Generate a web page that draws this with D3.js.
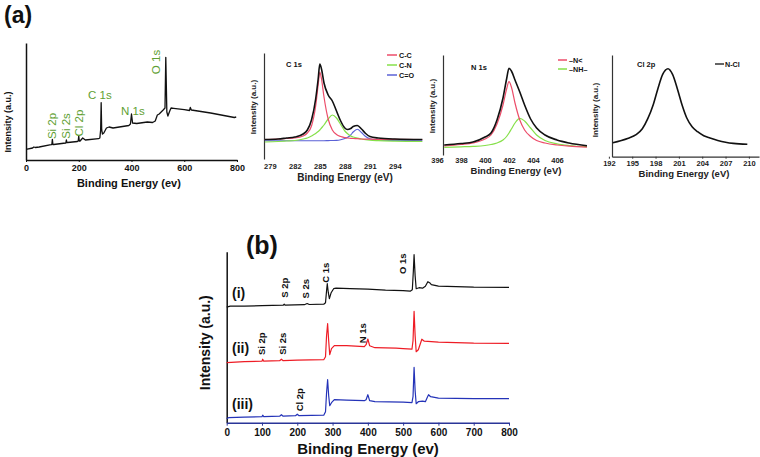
<!DOCTYPE html>
<html><head><meta charset="utf-8">
<script src="https://cdn.jsdelivr.net/npm/d3@7"></script>
<style>body{margin:0;background:#fff}svg{display:block}text{font-family:"Liberation Sans",Arial,sans-serif}</style>
</head><body><svg id="c" width="760" height="457"></svg>
<script>
// ---------- DATA ----------
// (a) survey spectrum
const surveyE = [0,25,30,35,50,95,98,100,102,105,150,151,153,155,158,195,198,200,202,205,215,225,275,280,283,285,287,290,295,305,315,330,390,396,400,404,420,460,480,490,498,505,520,527,530,534,538,545,550,560,600,620,623,627,700,760,790,797];
const surveyI = [10.7,12,13,12.5,13,15.3,15.5,20.7,15.5,15.5,17,17,20,17.5,17.5,18.5,19,24,19,19,22,20,21.3,22,30,57.3,30,26,27,32,33,32,34.5,36,46,37,36.5,38,37.5,39,45,46,50,52,102.7,48,44,49,52,51.7,50.3,49.5,52.5,50,47,44,42.5,43];
const surveyTicks = [0,200,400,600,800];
const surveyPeaks = ["Si 2p","Si 2s","Cl 2p","C 1s","N 1s","O 1s"];

// C 1s high resolution
const c1sE = [278.4,280,281,282,283,283.5,284,284.5,284.8,285,285.2,285.5,286,286.5,287,287.5,288,288.3,288.7,289,289.5,290,290.5,291,292,294,297.3];
const c1sTotal = [19.5,20,21,22,25,29,39,60,80,95,90,76,64,58,48,38,31,29.5,30.5,32.5,33.5,30,25.5,22.5,21,20,19.5];
const c1sCC = [19.5,20,20.5,21,23,26,33,53,74,87,80,62,40,29,24.5,22.5,21.5,21,20.7,20.5,20.3,20,19.9,19.8,19.7,19.6,19.5];
const c1sCN = [17,17.5,18,18.5,20,21,23,25.5,27.5,29,31,34,40,44,41,34.5,28,25.5,23,22,20.8,20,19.3,18.8,18.3,17.8,17.5];
const c1sCO = [18.3,18.3,18.3,18.3,18.3,18.3,18.3,18.3,18.3,18.3,18.3,18.3,18.4,18.5,18.6,19.2,20.5,21.5,24,27,29.7,26.5,22.5,20.3,19,18.5,18.3];
const c1sTicks = [279,282,285,288,291,294];
const c1sLegend = ["C-C","C-N","C=O"];

// N 1s high resolution
const n1sE = [396.6,398,399,400,400.5,401,401.5,401.8,402,402.2,402.5,402.9,403.3,403.8,404.3,405,406,407,408.5];
const n1sTotal = [10,11.5,13,18,22,35,57,76,86.7,84,75,63,50,36,27,20,15,12,9.3];
const n1sN3 = [9,10.5,12,16,20,31,50,66,73.3,68,52,35,25,18.5,14.5,12,10,8.8,7.8];
const n1sNH = [7.7,8.2,8.6,9.5,10.5,12,15,18.5,22,26,32,36.7,34,27,20,14.5,11.2,9.5,8.3];
const n1sTicks = [396,398,400,402,404,406];
const n1sLegend = ["\u2013N<","\u2013NH\u2013"];

// Cl 2p high resolution
const cl2pE = [192.5,193.5,194.5,195.5,196.3,197,197.7,198.3,198.9,199.6,200.2,200.8,201.4,202,202.7,203.4,204.2,205,206,207,208,209.8];
const cl2pI = [14,16,18.5,22,28,38,52,68,82,88,82,68,52,39,30,25,21,18.7,16.3,14.5,13.3,12.4];
const cl2pTicks = [192,195,198,201,204,207,210];

// (b) survey spectra of three samples
const bE1 = [0,10,50,100,160,163,166,220,228,234,275,280,283,285,288,291,296,303,310,350,400,450,500,520,526,529,531,534,537,545,555,563,570,575,580,600,650,700,800];
const bI1 = [115.5,116.5,116.5,117,117.5,118.5,117.5,118,119.2,118.2,118.5,120,132,139,130,124,130,134,134.5,134,133.5,132.5,132,131.5,133,152,168,147,134,135,134.5,136.5,141,140,138,136.5,136,135.5,135.3];
const bE2 = [0,50,100,102,105,150,155,160,200,275,280,283,286,289,292,297,305,340,390,395,400,405,420,480,500,525,528,531,534,537,543,553,560,600,700,800];
const bI2 = [60,61,61.5,63.5,61.5,62,63.5,62,62.5,63,66,87,99,82,68,74,77,77,76,78,83.7,77,75,74.5,74,73.5,82,111.3,87,71,73,83.5,81.5,80.5,79.5,79.3];
const bE3 = [0,5,50,100,102,105,150,155,160,195,200,205,275,280,283,286,289,292,297,305,340,390,395,400,405,420,500,525,528,531,534,537,543,555,563,568,572,578,600,700,800];
const bI3 = [4,5,5.5,6,7.5,6,6.5,8,6.5,7,8.5,7,7.5,11,30,43,27,17,20,23,22.5,22,23,28,22,21,20.5,20,26,55.3,32,19,21,21.5,21,25,28,26,24.5,24,24];
const bTicks = [0,100,200,300,400,500,600,700,800];
const bSeriesNames = ["(i)","(ii)","(iii)"];
const bPeaks1 = ["S 2p","S 2s","C 1s","O 1s"];
const bPeaks2 = ["Si 2p","Si 2s","N 1s"];
const bPeaks3 = ["Cl 2p"];

// ---------- DRAW ----------
const svg = d3.select("#c");
const FONT = '"Liberation Sans",Arial,sans-serif';
const zip = (E,I) => E.map((e,i)=>[e,I[i]]);

function lineOf(x,y,curve){return d3.line().x(d=>x(d[0])).y(d=>y(d[1])).curve(curve||d3.curveLinear);}
function path(g,data,x,y,color,w,curve){
  g.append("path").datum(data).attr("fill","none").attr("stroke",color)
   .attr("stroke-width",w).attr("stroke-linejoin","round").attr("d",lineOf(x,y,curve));
}
function txt(g,s,x,y,o){
  o=o||{};
  const t=g.append("text").attr("x",x).attr("y",y).text(s)
    .attr("font-size",o.size||8).attr("font-weight",o.weight||"bold")
    .attr("fill",o.fill||"#111").attr("text-anchor",o.anchor||"middle");
  if(o.rot) t.attr("transform",`rotate(${o.rot},${x},${y})`);
  return t;
}
function styleAxis(g,size,color,domainColor,domW){
  g.selectAll("text").attr("font-size",size).attr("font-weight","bold").attr("fill",color).attr("font-family",FONT);
  g.selectAll("line").attr("stroke",domainColor).attr("stroke-width",1);
  g.select(".domain").attr("stroke",domainColor).attr("stroke-width",domW);
}

// ===== (a) survey =====
txt(svg,"(a)",4,23,{size:23,anchor:"start"});
const xA = d3.scaleLinear([0,800],[26,237]);
const yA = d3.scaleLinear([0,117],[160,43]);
const gA = svg.append("g");
const axA = gA.append("g").attr("transform","translate(0,160)")
  .call(d3.axisBottom(xA).tickValues(surveyTicks).tickSize(2).tickPadding(3).tickSizeOuter(0));
styleAxis(axA,9,"#111","#111",1.5);
const ayA = gA.append("g").attr("transform","translate(26,0)")
  .call(d3.axisLeft(yA).tickValues([]).tickSizeOuter(0));
ayA.select(".domain").attr("stroke","#111").attr("stroke-width",1.5);
path(gA,zip(surveyE,surveyI),xA,yA,"#111",1.3);
txt(gA,"Binding Energy (ev)",xA(390),186.5,{size:11});
txt(gA,"Intensity (a.u.)",10.5,yA(38),{size:9,rot:-90});
const green="#5f9f33";
const pk = {size:11.5,weight:"normal",fill:green};
txt(gA,surveyPeaks[0],xA(100)+4,yA(34),Object.assign({rot:-90},pk));
txt(gA,surveyPeaks[1],xA(153)+4,yA(34),Object.assign({rot:-90},pk));
txt(gA,surveyPeaks[2],xA(200)+4,yA(37),Object.assign({rot:-90},pk));
txt(gA,surveyPeaks[3],xA(280),yA(61),Object.assign({size:12.5},pk));
txt(gA,surveyPeaks[4],xA(405),yA(45),Object.assign({size:12.5},pk));
txt(gA,surveyPeaks[5],xA(508),yA(98),Object.assign({rot:-90,size:12.5},pk));

// ===== C 1s =====
const xC = d3.scaleLinear([278.3,297.5],[264,424]);
const yC = d3.scaleLinear([0,106],[159,53]);
const gC = svg.append("g");
const ayC = gC.append("g").attr("transform","translate(264,0)").call(d3.axisLeft(yC).tickValues([]).tickSizeOuter(0));
ayC.select(".domain").attr("stroke","#333").attr("stroke-width",1.2);
const axC = gC.append("g").attr("transform","translate(0,159)")
  .call(d3.axisBottom(xC).tickValues(c1sTicks).tickSize(0).tickPadding(5).tickSizeOuter(0));
styleAxis(axC,7.5,"#222","#222",0); axC.select(".domain").remove();
const cRed="#ec4d6a", cGreen="#86e04a", cBlue="#5b62d6";
path(gC,zip(c1sE,c1sCO),xC,yC,cBlue,1.1,d3.curveMonotoneX);
path(gC,zip(c1sE,c1sCN),xC,yC,cGreen,1.2,d3.curveMonotoneX);
path(gC,zip(c1sE,c1sCC),xC,yC,cRed,1.2,d3.curveMonotoneX);
path(gC,zip(c1sE,c1sTotal),xC,yC,"#111",1.6,d3.curveMonotoneX);
txt(gC,"C 1s",286,66.5,{size:7.5,anchor:"start"});
[cRed,cGreen,cBlue].forEach((c,i)=>{
  gC.append("line").attr("x1",387).attr("x2",397).attr("y1",55+i*10).attr("y2",55+i*10).attr("stroke",c).attr("stroke-width",1.5);
  txt(gC,c1sLegend[i],399,57.5+i*10,{size:7.2,anchor:"start"});
});
txt(gC,"Binding Energy (eV)",345,180.5,{size:10,fill:"#222"});
txt(gC,"Intensity (a.u.)",256,107,{size:8,rot:-90,fill:"#222"});

// ===== N 1s =====
const xN = d3.scaleLinear([396.5,409],[443,593]);
const yN = d3.scaleLinear([0,100],[155,55]);
const gN = svg.append("g");
const ayN = gN.append("g").attr("transform","translate(443,0)").call(d3.axisLeft(yN).tickValues([]).tickSizeOuter(0));
ayN.select(".domain").attr("stroke","#333").attr("stroke-width",1.2);
const axN = gN.append("g").attr("transform","translate(0,155)")
  .call(d3.axisBottom(xN).tickValues(n1sTicks).tickSize(0).tickPadding(3).tickSizeOuter(0));
styleAxis(axN,7.5,"#222","#222",0); axN.select(".domain").remove();
path(gN,zip(n1sE,n1sNH),xN,yN,cGreen,1.2,d3.curveMonotoneX);
path(gN,zip(n1sE,n1sN3),xN,yN,cRed,1.2,d3.curveMonotoneX);
path(gN,zip(n1sE,n1sTotal),xN,yN,"#111",1.6,d3.curveMonotoneX);
txt(gN,"N 1s",471,69.5,{size:7.5,anchor:"start"});
[cRed,cGreen].forEach((c,i)=>{
  gN.append("line").attr("x1",558).attr("x2",567).attr("y1",60+i*9).attr("y2",60+i*9).attr("stroke",c).attr("stroke-width",1.5);
  txt(gN,n1sLegend[i],569,62.5+i*9,{size:7.2,anchor:"start"});
});
txt(gN,"Binding Energy (eV)",516,174,{size:9.5,fill:"#222"});
txt(gN,"Intensity (a.u.)",435,106,{size:8,rot:-90,fill:"#222"});

// ===== Cl 2p =====
const xL = d3.scaleLinear([192.4,211.3],[612,759]);
const yL = d3.scaleLinear([0,101.7],[156.7,55]);
const gL = svg.append("g");
const ayL = gL.append("g").attr("transform","translate(612,0)").call(d3.axisLeft(yL).tickValues([]).tickSizeOuter(0));
ayL.select(".domain").attr("stroke","#333").attr("stroke-width",1.2);
const axL = gL.append("g").attr("transform","translate(0,156.7)")
  .call(d3.axisBottom(xL).tickValues(cl2pTicks).tickSize(2).tickPadding(1.5).tickSizeOuter(0));
styleAxis(axL,7.5,"#222","#333",1.2);
path(gL,zip(cl2pE,cl2pI),xL,yL,"#111",1.6,d3.curveMonotoneX);
txt(gL,"Cl 2p",637,66.5,{size:7.5,anchor:"start"});
gL.append("line").attr("x1",715).attr("x2",724).attr("y1",64).attr("y2",64).attr("stroke","#111").attr("stroke-width",1.3);
txt(gL,"N-Cl",725,66.5,{size:7.2,anchor:"start"});
txt(gL,"Binding Energy (eV)",684,176.5,{size:9.5,fill:"#222"});
txt(gL,"Intensity (a.u.)",598,110,{size:8,rot:-90,fill:"#222"});

// ===== (b) =====
txt(svg,"(b)",246,254,{size:25,anchor:"start"});
const xB = d3.scaleLinear([0,800],[226.7,509]);
const yB = d3.scaleLinear([0,171],[422.7,251.7]);
const gB = svg.append("g");
const ayB = gB.append("g").attr("transform","translate(226.7,0)").call(d3.axisLeft(yB).tickValues([]).tickSizeOuter(0));
ayB.select(".domain").attr("stroke","#111").attr("stroke-width",1.5);
const axB = gB.append("g").attr("transform","translate(0,422.7)")
  .call(d3.axisBottom(xB).tickValues(bTicks).tickSize(3).tickPadding(3).tickSizeOuter(0));
styleAxis(axB,10,"#111","#2a3598",1.6);
const bColors=["#111","#ee1c25","#2433b8"];
path(gB,zip(bE1,bI1),xB,yB,bColors[0],1.2);
path(gB,zip(bE2,bI2),xB,yB,bColors[1],1.2);
path(gB,zip(bE3,bI3),xB,yB,bColors[2],1.2);
txt(gB,"Binding Energy (ev)",368,454,{size:15});
txt(gB,"Intensity (a.u.)",210,yB(80),{size:14,rot:-90});
txt(gB,bSeriesNames[0],232,297.5,{size:14,anchor:"start"});
txt(gB,bSeriesNames[1],232,352.5,{size:14,anchor:"start"});
txt(gB,bSeriesNames[2],232,409,{size:14,anchor:"start"});
const pb={size:9.5,rot:-90};
txt(gB,bPeaks1[0],288,yB(135),pb);
txt(gB,bPeaks1[1],309.5,yB(134),pb);
txt(gB,bPeaks1[2],329.5,yB(150),pb);
txt(gB,bPeaks1[3],406.5,yB(159),pb);
txt(gB,bPeaks2[0],265,yB(79),pb);
txt(gB,bPeaks2[1],286.5,yB(79),pb);
txt(gB,bPeaks2[2],366.5,yB(89.5),pb);
txt(gB,bPeaks3[0],303.5,yB(23),pb);
</script></body></html>
